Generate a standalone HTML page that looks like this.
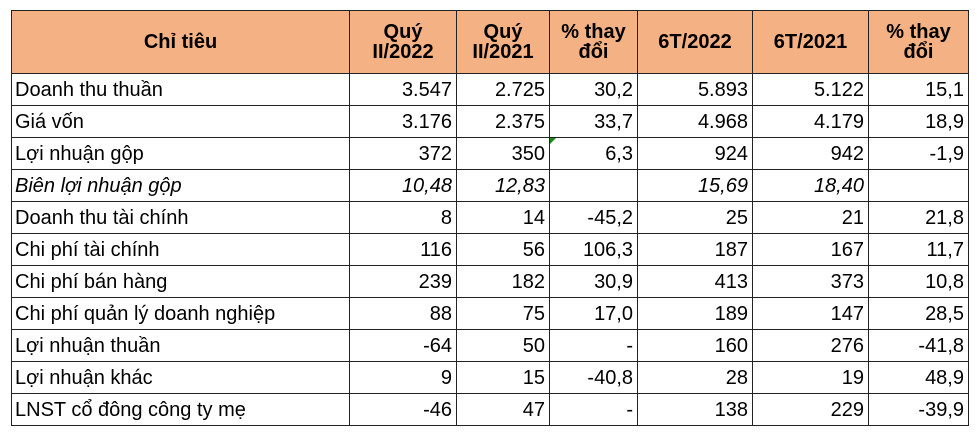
<!DOCTYPE html>
<html><head><meta charset="utf-8"><style>
body{margin:0;background:#fff;width:977px;height:433px;overflow:hidden}
table{position:absolute;left:11px;top:10px;border-collapse:collapse;font-family:"Liberation Sans",Arial,sans-serif;font-size:20px;color:#000;table-layout:fixed}
td,th{border:1px solid #222;padding:0 4px;height:31px;line-height:20px;white-space:nowrap;overflow:hidden}
th{background:#F4B183;font-weight:bold;height:62px;text-align:center}
td{text-align:right}
td:first-child{text-align:left;padding-left:3px}
tr.i td{font-style:italic}
.g{position:relative}
.g:before{content:"";position:absolute;left:0;top:0;border-top:6px solid #1a8a1a;border-right:6px solid transparent}
</style></head><body>
<table>
<colgroup><col style="width:338px"><col style="width:107px"><col style="width:93px"><col style="width:88px"><col style="width:115px"><col style="width:116px"><col style="width:100px"></colgroup>
<tr><th>Chỉ tiêu</th><th>Quý<br>II/2022</th><th>Quý<br>II/2021</th><th>% thay<br>đổi</th><th>6T/2022</th><th>6T/2021</th><th>% thay<br>đổi</th></tr>
<tr><td>Doanh thu thuần</td><td>3.547</td><td>2.725</td><td>30,2</td><td>5.893</td><td>5.122</td><td>15,1</td></tr>
<tr><td>Giá vốn</td><td>3.176</td><td>2.375</td><td>33,7</td><td>4.968</td><td>4.179</td><td>18,9</td></tr>
<tr><td>Lợi nhuận gộp</td><td>372</td><td>350</td><td class="g">6,3</td><td>924</td><td>942</td><td>-1,9</td></tr>
<tr class="i"><td>Biên lợi nhuận gộp</td><td>10,48</td><td>12,83</td><td></td><td>15,69</td><td>18,40</td><td></td></tr>
<tr><td>Doanh thu tài chính</td><td>8</td><td>14</td><td>-45,2</td><td>25</td><td>21</td><td>21,8</td></tr>
<tr><td>Chi phí tài chính</td><td>116</td><td>56</td><td>106,3</td><td>187</td><td>167</td><td>11,7</td></tr>
<tr><td>Chi phí bán hàng</td><td>239</td><td>182</td><td>30,9</td><td>413</td><td>373</td><td>10,8</td></tr>
<tr><td>Chi phí quản lý doanh nghiệp</td><td>88</td><td>75</td><td>17,0</td><td>189</td><td>147</td><td>28,5</td></tr>
<tr><td>Lợi nhuận thuần</td><td>-64</td><td>50</td><td>-</td><td>160</td><td>276</td><td>-41,8</td></tr>
<tr><td>Lợi nhuận khác</td><td>9</td><td>15</td><td>-40,8</td><td>28</td><td>19</td><td>48,9</td></tr>
<tr><td>LNST cổ đông công ty mẹ</td><td>-46</td><td>47</td><td>-</td><td>138</td><td>229</td><td>-39,9</td></tr>
</table>
</body></html>
